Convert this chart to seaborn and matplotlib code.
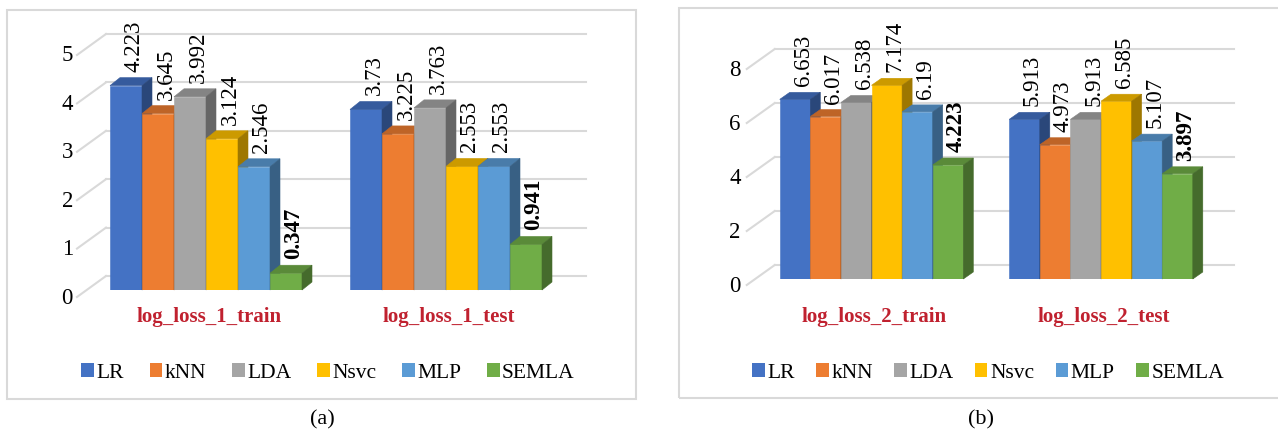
import numpy as np
import pandas as pd
import matplotlib
matplotlib.use("Agg")
import matplotlib.pyplot as plt
import matplotlib.colors as mcolors
import matplotlib.transforms as mtransforms
from matplotlib.patches import Polygon, Rectangle
from matplotlib.lines import Line2D
import seaborn as sns

# ---- data -------------------------------------------------------------
models = ["LR", "kNN", "LDA", "Nsvc", "MLP", "SEMLA"]
colors = ["#4472C4", "#ED7D31", "#A5A5A5", "#FFC000", "#5B9BD5", "#70AD47"]

metrics_1 = ["log_loss_1_train", "log_loss_1_test"]
loss_1_train = [4.223, 3.645, 3.992, 3.124, 2.546, 0.347]
loss_1_test = [3.73, 3.225, 3.763, 2.553, 2.553, 0.941]
ticks_1 = [0, 1, 2, 3, 4, 5]

metrics_2 = ["log_loss_2_train", "log_loss_2_test"]
loss_2_train = [6.653, 6.017, 6.538, 7.174, 6.19, 4.223]
loss_2_test = [5.913, 4.973, 5.913, 6.585, 5.107, 3.897]
ticks_2 = [0, 2, 4, 6, 8]

bold_model = "SEMLA"
captions = ["(a)", "(b)"]

# ---- style ------------------------------------------------------------
W, H = 1278, 430
DPI = 100
plt.rcParams["font.family"] = ["Liberation Serif", "DejaVu Serif"]
GRID = "#D9D9D9"
LABEL_RED = "#C0212F"
FS_TICK, FS_VALUE, FS_GROUP, FS_LEGEND, FS_CAPTION = 16.5, 16.5, 15, 15.5, 16


def long_frame(metrics, train, test):
    rows = []
    for metric, vals in zip(metrics, [train, test]):
        for m, v in zip(models, vals):
            rows.append({"metric": metric, "model": m, "value": v})
    return pd.DataFrame(rows)


def shade(color, f):
    r, g, b = mcolors.to_rgb(color)
    return (r * f, g * f, b * f)


fig = plt.figure(figsize=(W / DPI, H / DPI), dpi=DPI)


def px_axes(center0, xscale, base_y, yscale, ymax):
    """Axes whose x runs -0.5..1.5 and y runs 0..ymax, placed in pixels."""
    left = center0 - 0.5 * xscale
    width = 2.0 * xscale
    bottom = H - base_y
    height = ymax * yscale
    return fig.add_axes([left / W, bottom / H, width / W, height / H])


def draw_panel(ax, df, metrics, ticks, ymax, cfg):
    sns.barplot(data=df, x="metric", y="value", hue="model", order=metrics,
                hue_order=models, palette=colors, saturation=1, width=0.8,
                errorbar=None, ax=ax, legend=True)
    ax.set_xlim(-0.5, 1.5)
    ax.set_ylim(0, ymax)
    ax.axis("off")

    fig.canvas.draw()
    T = ax.transData
    inv = T.inverted()

    def off(dx, dy):
        return mtransforms.offset_copy(T, fig=fig, x=dx, y=dy, units="dots")

    wdx, wdy = cfg["wall"]
    sdx, sdy = cfg["slant"]
    x0, x1 = ax.get_xlim()
    # back wall gridlines and the slanted side-wall lines
    for v in ticks:
        ax.add_line(Line2D([x0, x1], [v, v], transform=off(wdx, wdy),
                           color=GRID, lw=1.5, zorder=1, clip_on=False))
        p = T.transform((x0, v))
        seg = inv.transform([p + np.array([sdx, sdy]), p + np.array([wdx, wdy])])
        ax.add_line(Line2D(seg[:, 0], seg[:, 1], color=GRID, lw=1.5,
                           zorder=1, clip_on=False))
        tdx, tdy = cfg["tick"]
        ax.text(x0, v, f"{v:g}", transform=off(tdx, tdy), ha="right",
                va="center", fontsize=FS_TICK, color="#000000", clip_on=False)

    # 3D extrusion of every bar: top and right-hand faces
    ddx, ddy = cfg["depth"]
    bars = sorted([p for p in ax.patches if isinstance(p, Rectangle)
                   and p.get_height() > 0], key=lambda p: p.get_x())
    for k, bar in enumerate(bars):
        face = bar.get_facecolor()
        z = 3 + 0.01 * k
        bar.set_zorder(z)
        bar.set_edgecolor(face)
        bar.set_linewidth(0.4)
        bx, bw, bh = bar.get_x(), bar.get_width(), bar.get_height()
        fl = T.transform((bx, bh))
        fr = T.transform((bx + bw, bh))
        br0 = T.transform((bx + bw, 0))
        d = np.array([ddx, ddy])
        top = inv.transform([fl, fr, fr + d, fl + d])
        side = inv.transform([br0, fr, fr + d, br0 + d])
        ax.add_patch(Polygon(top, closed=True, facecolor=shade(face, 0.8),
                             edgecolor=shade(face, 0.8), lw=0.4, zorder=z + 0.005,
                             clip_on=False))
        ax.add_patch(Polygon(side, closed=True, facecolor=shade(face, 0.62),
                             edgecolor=shade(face, 0.62), lw=0.4, zorder=z + 0.005,
                             clip_on=False))

    # value labels above each bar
    lvx, lvy = cfg["value"]
    for _, row in df.iterrows():
        i = metrics.index(row["metric"])
        j = models.index(row["model"])
        cx = i - 0.4 + (j + 0.5) * 0.8 / len(models)
        ax.text(cx, row["value"], f"{row['value']:g}", transform=off(lvx, lvy),
                rotation=90, ha="center", va="bottom", fontsize=FS_VALUE,
                fontweight="bold" if row["model"] == bold_model else "normal",
                clip_on=False, zorder=10)

    # category labels under each group
    gdx, gdy = cfg["group"]
    for i, m in enumerate(metrics):
        ax.text(i, 0, m, transform=off(gdx, gdy), ha="center", va="center",
                fontsize=FS_GROUP, fontweight="bold", color=LABEL_RED,
                clip_on=False)

    lx, ly = cfg["legend"]
    sns.move_legend(ax, "center", bbox_to_anchor=(lx / W, 1 - ly / H),
                    bbox_transform=fig.transFigure, ncol=6, title=None,
                    frameon=False, fontsize=FS_LEGEND, handlelength=0.58,
                    handleheight=0.58, handletextpad=0.12,
                    columnspacing=cfg["colspace"], borderpad=0)


# panel frames
fig.add_artist(Rectangle((7 / W, 1 - 399 / H), 629 / W, 389 / H,
                         transform=fig.transFigure, fill=False,
                         edgecolor=GRID, lw=1.5))
fig.add_artist(Rectangle((679 / W, 1 - 398 / H), 610 / W, 390 / H,
                         transform=fig.transFigure, fill=False,
                         edgecolor=GRID, lw=1.5))

ax1 = px_axes(206, 240, 290, 48.4, 5.5)
draw_panel(ax1, long_frame(metrics_1, loss_1_train, loss_1_test), metrics_1,
           ticks_1, 5.5,
           dict(wall=(20, 14), slant=(-9, -7), tick=(-13, -8), depth=(10, 8),
                value=(8, 14), group=(3, -27), legend=(328, 373), colspace=1.2))

ax2 = px_axes(871.5, 229.5, 279, 27.0, 9.0)
draw_panel(ax2, long_frame(metrics_2, loss_2_train, loss_2_test), metrics_2,
           ticks_2, 9.0,
           dict(wall=(18, 14), slant=(-10, -6), tick=(-16, -7), depth=(10, 7),
                value=(8, 13), group=(3, -38), legend=(988, 373), colspace=1.0))

fig.text(322 / W, 1 - 420 / H, captions[0], ha="center", va="center",
         fontsize=FS_CAPTION)
fig.text(981 / W, 1 - 420 / H, captions[1], ha="center", va="center",
         fontsize=FS_CAPTION)

fig.savefig("out.png", dpi=DPI, facecolor="white")
